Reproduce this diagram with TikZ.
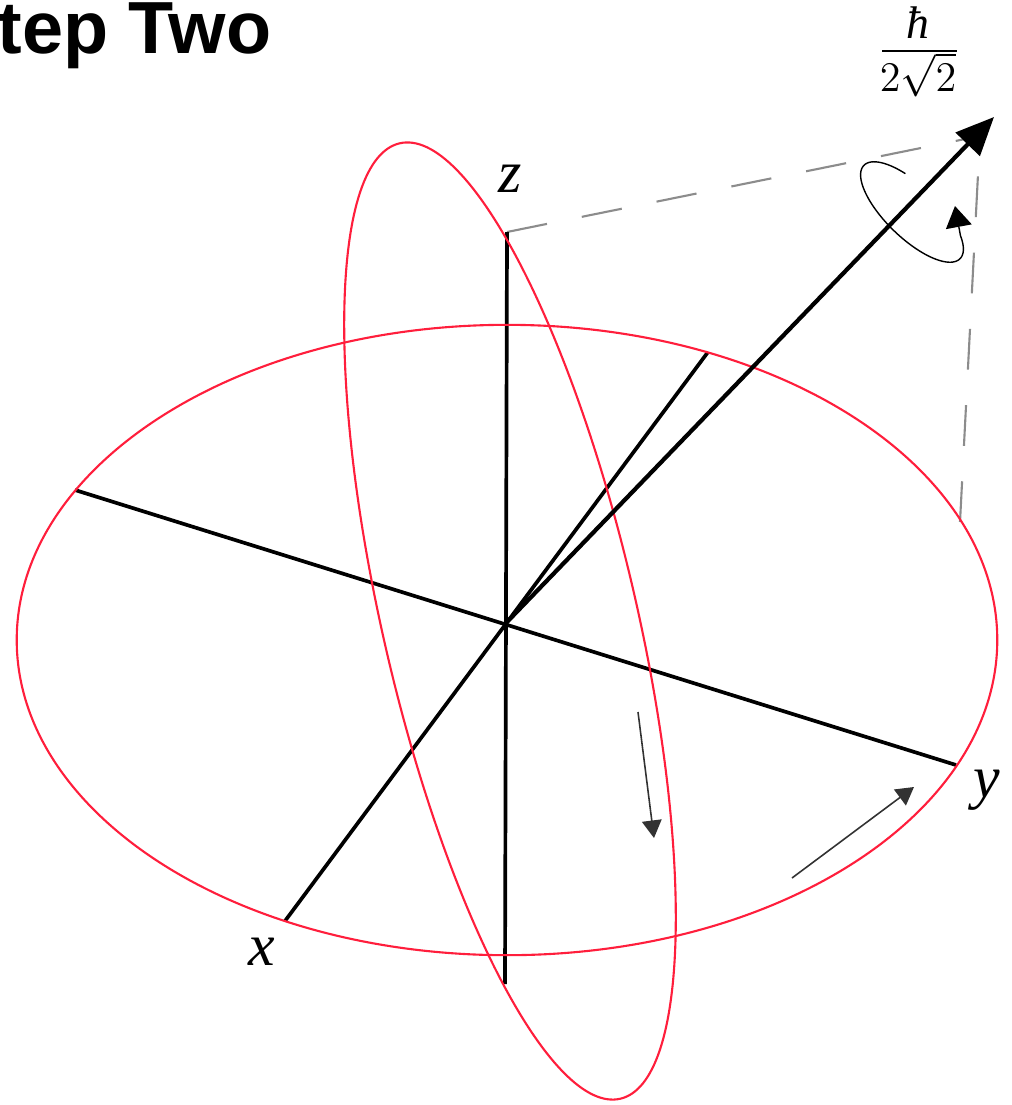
\documentclass[tikz,border=0pt]{standalone}
\usepackage{amsmath}
\usepackage{fontspec}
\setmainfont{Liberation Serif}
\newfontfamily\titlefont{Liberation Sans}
\usetikzlibrary{arrows.meta}
\definecolor{ellred}{RGB}{255,30,60}
\definecolor{dashgray}{RGB}{140,140,140}
\definecolor{smallgray}{RGB}{50,50,50}
\begin{document}
\begin{tikzpicture}[x=0.01cm,y=-0.01cm,
  redline/.style={draw=ellred,line width=0.6pt},
  axisline/.style={draw=black,line width=1.05pt},
  spinline/.style={draw=black,line width=1.2pt,-{Triangle[length=10.8pt,width=9.4pt]}},
  dashline/.style={draw=dashgray,line width=0.6pt,dash pattern=on 11.6pt off 10.1pt},
  smallarrow/.style={draw=smallgray,line width=0.45pt,-{Triangle[length=5pt,width=5.6pt]}},
  loopline/.style={draw=black,line width=0.4pt,-{Triangle[length=6pt,width=7.4pt]}},
  axlabel/.style={inner sep=0pt,font=\fontsize{17}{20}\selectfont\itshape}]
\useasboundingbox (0,0) rectangle (1011,1105);
% coordinates
\coordinate (O) at (507,622);
\coordinate (ztop) at (507,232);
\coordinate (zbot) at (505,984);
\coordinate (xend) at (285,921);
\coordinate (xback) at (708,352);
\coordinate (yleft) at (75,490);
\coordinate (yright) at (956,765);
\coordinate (tip) at (994,117);
\coordinate (P) at (980,136);
\coordinate (foot) at (960,522);
\coordinate (a1s) at (638,712);
\coordinate (a1e) at (654,838);
\coordinate (a2s) at (792,878);
\coordinate (a2e) at (914,787);
\coordinate (looptip) at (955,206);
\coordinate (barL) at (882,51);
\coordinate (barR) at (957,51);
% title
\node[anchor=base west,inner sep=0pt,font=\titlefont\bfseries\fontsize{21}{25}\selectfont] (title) at (-3,53) {tep Two};
% dashed projections
\draw[dashline] (ztop) -- (P);
\draw[dashline] (foot) -- (P);
% axes
\draw[axisline] (ztop) -- (zbot);
\draw[axisline] (xend) -- (xback);
\draw[axisline] (yleft) -- (yright);
% red ellipses
\draw[redline] (507,640) ellipse [x radius=4.90cm, y radius=3.15cm];
\draw[redline, rotate around={13:(510,621)}] (510,621) ellipse [x radius=1.27cm, y radius=4.90cm];
% spin vector
\draw[spinline] (O) -- (tip);
% rotation loop around spin
\draw[loopline] plot[domain=118:400,samples=90,variable=\t]
  ({912+67*0.718*cos(\t)+26*0.696*sin(\t)},{212+67*0.696*cos(\t)-26*0.718*sin(\t)}) -- (looptip);
% small arrows
\draw[smallarrow] (a1s) -- (a1e);
\draw[smallarrow] (a2s) -- (a2e);
% labels
\node[axlabel] (zl) at (510,179) {z};
\node[axlabel] (xl) at (262,952) {x};
\node[axlabel] (yl) at (987,790) {y};
% fraction hbar / (2 sqrt 2)
\node[inner sep=0pt,anchor=base,font=\fontsize{13}{15}\selectfont\itshape] (hb) at (918,38) {ħ};
\draw[line width=0.45pt] (barL) -- (barR);
\node[inner sep=0pt,anchor=base,font=\fontsize{12.5}{15}\selectfont] (den) at (918,91) {$2\sqrt{2}$};
\end{tikzpicture}
\end{document}
